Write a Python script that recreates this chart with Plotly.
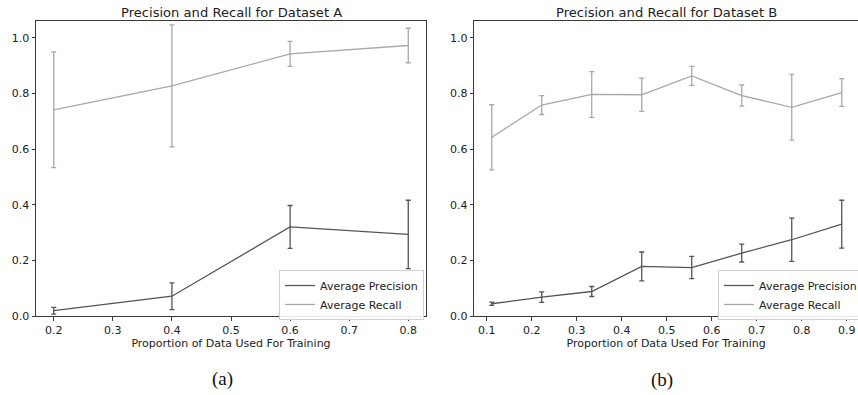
import plotly.graph_objects as go

# Dataset A
xa = [0.2, 0.4, 0.6, 0.8]
prec_a = [0.019, 0.071, 0.320, 0.293]
prec_a_err = [0.012, 0.048, 0.077, 0.123]
rec_a = [0.741, 0.827, 0.942, 0.972]
rec_a_err = [0.208, 0.219, 0.045, 0.062]

# Dataset B
xb = [1/9, 2/9, 3/9, 4/9, 5/9, 6/9, 7/9, 8/9]
prec_b = [0.044, 0.068, 0.088, 0.178, 0.174, 0.226, 0.274, 0.330]
prec_b_err = [0.006, 0.019, 0.018, 0.052, 0.040, 0.032, 0.078, 0.086]
rec_b = [0.642, 0.758, 0.796, 0.795, 0.863, 0.792, 0.750, 0.803]
rec_b_err = [0.117, 0.034, 0.082, 0.060, 0.034, 0.038, 0.118, 0.050]

xticks_a = [0.2, 0.3, 0.4, 0.5, 0.6, 0.7, 0.8]
xticks_b = [0.1, 0.2, 0.3, 0.4, 0.5, 0.6, 0.7, 0.8, 0.9]
yticks = [0.0, 0.2, 0.4, 0.6, 0.8, 1.0]

PREC = "#555555"
REC = "#a8a8a8"
FRAME = "#3a3a3a"
FONT = "DejaVu Sans"

fig = go.Figure()

def add_series(x, y, err, color, name, xa_, ya_, legend, show):
    fig.add_trace(go.Scatter(
        x=x, y=y, mode="lines", name=name,
        line=dict(color=color, width=1.3),
        error_y=dict(type="data", array=err, visible=True, color=color,
                     thickness=1.3, width=2.5),
        xaxis=xa_, yaxis=ya_, legend=legend, showlegend=show))

add_series(xa, prec_a, prec_a_err, PREC, "Average Precision", "x", "y", "legend", True)
add_series(xa, rec_a, rec_a_err, REC, "Average Recall", "x", "y", "legend", True)
add_series(xb, prec_b, prec_b_err, PREC, "Average Precision", "x2", "y2", "legend2", True)
add_series(xb, rec_b, rec_b_err, REC, "Average Recall", "x2", "y2", "legend2", True)

W, H = 858, 395
axis_common = dict(showgrid=False, zeroline=False, showline=True, linecolor=FRAME,
                   linewidth=1, mirror=True, ticks="outside", ticklen=3.5,
                   tickcolor=FRAME, automargin=False,
                   tickfont=dict(family=FONT, size=11, color="#222"))

legend_common = dict(bgcolor="rgba(255,255,255,0.9)", bordercolor="#d0d0d0", borderwidth=1,
                     font=dict(family=FONT, size=11, color="#222"), tracegroupgap=0,
                     itemwidth=30, yanchor="top")

fig.update_layout(
    width=W, height=H, margin=dict(l=0, r=0, t=0, b=0, autoexpand=False),
    plot_bgcolor="white", paper_bgcolor="white",
    font=dict(family=FONT, color="#222"),
    xaxis=dict(domain=[36/W, 426/W], range=[0.17, 0.83], tickvals=xticks_a,
               ticktext=[f"{v:.1f}" for v in xticks_a], anchor="y",
               title=dict(text="Proportion of Data Used For Training",
                          font=dict(family=FONT, size=11), standoff=2), **axis_common),
    yaxis=dict(domain=[(H-316)/H, (H-21)/H], range=[0, 1.06], tickvals=yticks,
               ticktext=[f"{v:.1f}" for v in yticks], anchor="x", **axis_common),
    xaxis2=dict(domain=[474.3/W, 1.0], range=[0.0724, 0.925], tickvals=xticks_b,
                ticktext=[f"{v:.1f}" for v in xticks_b], anchor="y2",
                title=dict(text="Proportion of Data Used For Training",
                           font=dict(family=FONT, size=11), standoff=2), **axis_common),
    yaxis2=dict(domain=[(H-316)/H, (H-21)/H], range=[0, 1.06], tickvals=yticks,
                ticktext=[f"{v:.1f}" for v in yticks], anchor="x2", **axis_common),
    legend=dict(x=279/W, y=(H-270)/H, xanchor="left", **legend_common),
    legend2=dict(x=718/W, y=(H-270)/H, xanchor="left", **legend_common),
    annotations=[
        dict(text="Precision and Recall for Dataset A", x=(36+426)/2/W, y=(H-12)/H,
             xref="paper", yref="paper", showarrow=False, xanchor="center", yanchor="middle",
             font=dict(family=FONT, size=13.1, color="#222")),
        dict(text="Precision and Recall for Dataset B", x=(474+859)/2/W, y=(H-12)/H,
             xref="paper", yref="paper", showarrow=False, xanchor="center", yanchor="middle",
             font=dict(family=FONT, size=13.1, color="#222")),
        dict(text="(a)", x=222/W, y=(H-379)/H, xref="paper", yref="paper",
             showarrow=False, xanchor="center", yanchor="middle",
             font=dict(family="Liberation Serif", size=19, color="#111")),
        dict(text="(b)", x=662/W, y=(H-380)/H, xref="paper", yref="paper",
             showarrow=False, xanchor="center", yanchor="middle",
             font=dict(family="Liberation Serif", size=19, color="#111")),
    ],
)

fig.write_html("out.html", config={"displayModeBar": False},
               post_script="document.body.style.margin='0';document.body.style.overflow='hidden';")
